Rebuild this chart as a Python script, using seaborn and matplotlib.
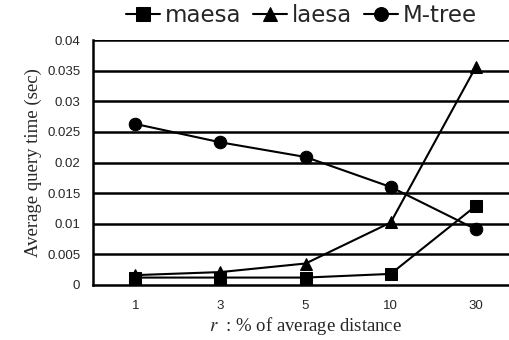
import matplotlib
matplotlib.use("Agg")
import matplotlib.pyplot as plt
import seaborn as sns
import pandas as pd
import numpy as np

categories = ["1", "3", "5", "10", "30"]
maesa = [0.0012, 0.0012, 0.0012, 0.0018, 0.0129]
laesa = [0.0016, 0.0021, 0.0035, 0.0102, 0.0356]
mtree = [0.0263, 0.0233, 0.0209, 0.0160, 0.0091]
series_names = ["maesa", "laesa", "M-tree"]
yticks = [0, 0.005, 0.01, 0.015, 0.02, 0.025, 0.03, 0.035, 0.04]
ytick_labels = ["0", "0.005", "0.01", "0.015", "0.02", "0.025", "0.03", "0.035", "0.04"]

sns.set_theme(style="white")
plt.rcParams['font.family'] = ['Liberation Sans', 'DejaVu Sans']
plt.rcParams['mathtext.fontset'] = 'stix'

rows = []
for name, vals in zip(series_names, [maesa, laesa, mtree]):
    for i, v in enumerate(vals):
        rows.append({"pos": i, "val": v, "series": name})
df = pd.DataFrame(rows)

fig = plt.figure(figsize=(5.1, 3.4), dpi=100)
ax = fig.add_axes([0.182, 0.162, 0.818 * 1.02, 0.72])

for y in yticks[1:]:
    ax.axhline(y, color="black", lw=1.8, zorder=1)

sns.lineplot(data=df, x="pos", y="val", hue="series", style="series",
             palette={n: "black" for n in series_names},
             markers={"maesa": "s", "laesa": "^", "M-tree": "o"},
             dashes=False, markersize=9, lw=1.5, ax=ax, zorder=3,
             markeredgecolor="black")

ax.set_xlim(-0.5, 4.5)
ax.set_ylim(0, 0.04)
ax.set_xticks(range(len(categories)))
ax.set_xticklabels(categories, fontsize=9.5)
ax.set_xticks([0.5, 1.5, 2.5, 3.5], minor=True)
ax.tick_params(axis="x", which="major", length=0, pad=11)
ax.tick_params(axis="x", which="minor", direction="in", length=5, width=1.5, color="black")
ax.set_yticks(yticks)
ax.set_yticklabels(ytick_labels, fontsize=9.5)
ax.tick_params(axis="y", length=0, pad=9)

for s in ["top", "right"]:
    ax.spines[s].set_visible(False)
for s in ["left", "bottom"]:
    ax.spines[s].set_color("black")
    ax.spines[s].set_linewidth(1.8)

ax.set_ylabel("Average query time (sec)", family="Liberation Serif", fontsize=13.5, labelpad=4)
ax.set_xlabel(r"$r$  : % of average distance", family="Liberation Serif", fontsize=13.5, labelpad=2)

handles, labels = ax.get_legend_handles_labels()
for h in handles:
    h.set_markersize(10)
ax.legend(handles, labels, loc="center", bbox_to_anchor=(0.49, 1.1), ncol=3,
          frameon=False, handlelength=1.5, handletextpad=0.2,
          columnspacing=0.5, borderaxespad=0, prop={"family": "DejaVu Sans", "size": 16.5})

fig.savefig("out.png", dpi=100)
